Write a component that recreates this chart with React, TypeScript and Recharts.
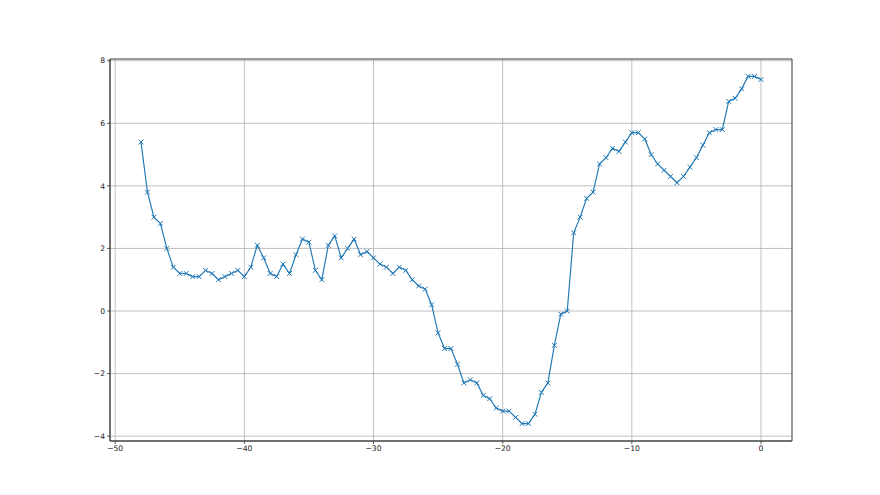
import React from "react";
import { LineChart, Line, XAxis, YAxis, CartesianGrid, ReferenceArea } from "recharts";

const yValues: number[] = [
  5.4, 3.8, 3.0, 2.8, 2.0, 1.4, 1.2, 1.2, 1.1, 1.1,
  1.3, 1.2, 1.0, 1.1, 1.2, 1.3, 1.1, 1.4, 2.1, 1.7,
  1.2, 1.1, 1.5, 1.2, 1.8, 2.3, 2.2, 1.3, 1.0, 2.1,
  2.4, 1.7, 2.0, 2.3, 1.8, 1.9, 1.7, 1.5, 1.4, 1.2,
  1.4, 1.3, 1.0, 0.8, 0.7, 0.2, -0.7, -1.2, -1.2, -1.7,
  -2.3, -2.2, -2.3, -2.7, -2.8, -3.1, -3.2, -3.2, -3.4, -3.6,
  -3.6, -3.3, -2.6, -2.3, -1.1, -0.1, 0.0, 2.5, 3.0, 3.6,
  3.8, 4.7, 4.9, 5.2, 5.1, 5.4, 5.7, 5.7, 5.5, 5.0,
  4.7, 4.5, 4.3, 4.1, 4.3, 4.6, 4.9, 5.3, 5.7, 5.8,
  5.8, 6.7, 6.8, 7.1, 7.5, 7.5, 7.4,
];
const xStart = -48;
const xStep = 0.5;
const xValues: number[] = yValues.map((_, i) => xStart + i * xStep);
const xTicks: number[] = [-50, -40, -30, -20, -10, 0];
const yTicks: number[] = [-4, -2, 0, 2, 4, 6, 8];
const xDomain: [number, number] = [-50.4, 2.4];
const yDomain: [number, number] = [-4.155, 8.055];

const data = xValues.map((x, i) => ({ x, y: yValues[i] }));

const COLOR = "#1f77b4";
const SPINE = "#333";
const fmt = (v: number) => String(v).replace("-", "\u2212");

const XMarker = (props: any) => {
  const { cx, cy } = props;
  if (cx == null || cy == null) return null;
  const s = 2.4;
  return (
    <g>
      <line x1={cx - s} y1={cy - s} x2={cx + s} y2={cy + s} stroke={COLOR} strokeWidth={1} />
      <line x1={cx - s} y1={cy + s} x2={cx + s} y2={cy - s} stroke={COLOR} strokeWidth={1} />
    </g>
  );
};

const tickStyle = { fontFamily: "DejaVu Sans", fontSize: 7.6, fill: "#222" };

export default function App() {
  return (
    <div style={{ position: "absolute", left: 0, top: 0, width: 880, height: 495, background: "#fff" }}>
      <LineChart
        width={880}
        height={495}
        data={data}
        margin={{ top: 59, right: 88, bottom: 0, left: 0 }}
      >
        <CartesianGrid stroke="#b0b0b0" strokeWidth={0.8} horizontal vertical />
        <XAxis
          type="number"
          dataKey="x"
          domain={xDomain}
          ticks={xTicks}
          allowDataOverflow
          height={54}
          tickFormatter={fmt}
          tick={tickStyle}
          tickSize={3}
          tickMargin={2}
          axisLine={{ stroke: SPINE, strokeWidth: 0.8 }}
          tickLine={{ stroke: SPINE, strokeWidth: 0.8 }}
          interval={0}
        />
        <YAxis
          type="number"
          domain={yDomain}
          ticks={yTicks}
          allowDataOverflow
          width={110}
          tickFormatter={fmt}
          tick={tickStyle}
          tickSize={3}
          tickMargin={2}
          axisLine={{ stroke: SPINE, strokeWidth: 0.8 }}
          tickLine={{ stroke: SPINE, strokeWidth: 0.8 }}
          interval={0}
        />
        <ReferenceArea
          x1={xDomain[0]}
          x2={xDomain[1]}
          y1={yDomain[0]}
          y2={yDomain[1]}
          fill="none"
          stroke={SPINE}
          strokeWidth={0.8}
          ifOverflow="visible"
        />
        <Line
          type="linear"
          dataKey="y"
          stroke={COLOR}
          strokeWidth={1.15}
          dot={<XMarker />}
          activeDot={false}
          isAnimationActive={false}
        />
      </LineChart>
    </div>
  );
}
